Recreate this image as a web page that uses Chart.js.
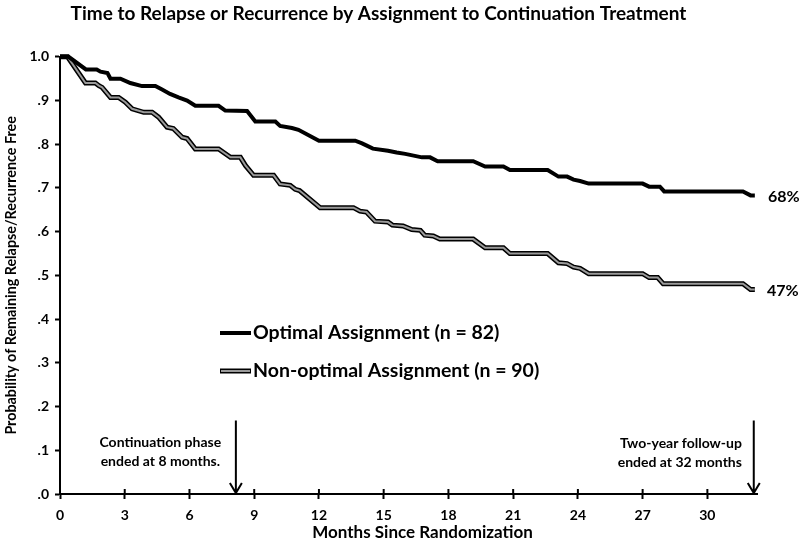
<!DOCTYPE html>
<html>
<head>
<meta charset="utf-8">
<script src="https://cdn.jsdelivr.net/npm/chart.js@4.4.1/dist/chart.umd.min.js"></script>
<style>
  body { margin: 0; background: #fff; }
  #wrap { width: 800px; height: 542px; position: relative; }
</style>
</head>
<body>
<div id="wrap"><canvas id="kmChart"></canvas></div>
<script>
/* ---- dados ---- */
const titleText = 'Time to Relapse or Recurrence by Assignment to Continuation Treatment';
const xTitle = 'Months Since Randomization';
const yTitle = 'Probability of Remaining Relapse/Recurrence Free';
const xTickValues = [0, 3, 6, 9, 12, 15, 18, 21, 24, 27, 30];
const yTickLabels = ['.0', '.1', '.2', '.3', '.4', '.5', '.6', '.7', '.8', '.9', '1.0'];

const seriesNames = ['Optimal Assignment (n = 82)', 'Non-optimal Assignment (n = 90)'];
const endLabels = ['68%', '47%'];

const optimalMonths = [0, 0.4, 1.2, 1.7, 1.88, 2.2, 2.34, 2.8, 3.26, 3.8, 4.42, 4.73, 5.1, 5.49, 5.89, 6.27,
  7.35, 7.66, 8.67, 9.05, 9.98, 10.2, 10.75, 11.05, 12.0, 13.68, 14.0, 14.5, 15.2, 15.6, 16.0, 16.77,
  17.15, 17.5, 19.15, 19.7, 20.55, 20.85, 22.6, 23.1, 23.5, 23.8, 24.1, 24.5, 27.0, 27.3, 27.8, 28.0,
  31.65, 32.0, 32.2];
const optimalSurv = [1.0, 1.0, 0.971, 0.971, 0.966, 0.963, 0.950, 0.950, 0.940, 0.933, 0.933, 0.925, 0.915, 0.907, 0.900, 0.888,
  0.888, 0.877, 0.876, 0.852, 0.852, 0.842, 0.837, 0.833, 0.808, 0.808, 0.802, 0.790, 0.785, 0.781, 0.778, 0.770,
  0.770, 0.761, 0.761, 0.749, 0.749, 0.741, 0.741, 0.726, 0.726, 0.719, 0.716, 0.710, 0.710, 0.703, 0.703, 0.692,
  0.692, 0.683, 0.683];

const nonOptMonths = [0, 0.35, 1.18, 1.64, 1.8, 1.95, 2.34, 2.72, 3.03, 3.34, 3.88, 4.27, 4.57, 4.96, 5.25, 5.66,
  5.89, 6.27, 7.35, 7.9, 8.36, 8.6, 8.97, 9.9, 10.2, 10.67, 10.9, 11.1, 12.05, 13.6, 13.9, 14.2,
  14.6, 15.2, 15.4, 15.9, 16.3, 16.7, 16.9, 17.3, 17.6, 19.15, 19.7, 20.55, 20.85, 22.6, 23.1, 23.5,
  23.8, 24.1, 24.5, 27.0, 27.3, 27.7, 27.95, 31.65, 32.0, 32.2];
const nonOptSurv = [1.0, 1.0, 0.940, 0.940, 0.934, 0.930, 0.907, 0.907, 0.896, 0.881, 0.873, 0.873, 0.862, 0.839, 0.836, 0.816,
  0.813, 0.789, 0.789, 0.770, 0.770, 0.751, 0.729, 0.729, 0.709, 0.706, 0.697, 0.694, 0.655, 0.655, 0.647, 0.645,
  0.624, 0.622, 0.615, 0.613, 0.605, 0.603, 0.592, 0.590, 0.583, 0.583, 0.563, 0.563, 0.550, 0.550, 0.529, 0.527,
  0.519, 0.516, 0.504, 0.504, 0.495, 0.495, 0.481, 0.481, 0.468, 0.468];

// anotações: mês da seta e texto
const arrowMonths = [8.15, 32.15];
const arrowTexts = [['Continuation phase', 'ended at 8 months.'], ['Two-year follow-up', 'ended at 32 months']];

const FONT = 'Lato, "Open Sans", sans-serif';

function toPoints(xs, ys) {
    return xs.map((x, i) => ({ x: x, y: ys[i] }));
}

/* ---- plugin: ticks cruzando o eixo x, legenda, setas, rótulos finais ---- */
const extrasPlugin = {
    id: 'extras',
    afterDraw(chart) {
        const ctx = chart.ctx;
        const xs = chart.scales.x, ys = chart.scales.y;
        const area = chart.chartArea;
        ctx.save();

        // parte interna dos ticks do eixo x
        ctx.strokeStyle = '#000';
        ctx.lineWidth = 2;
        xTickValues.forEach(v => {
            if (v === 0) return;
            const px = xs.getPixelForValue(v);
            ctx.beginPath();
            ctx.moveTo(px, area.bottom);
            ctx.lineTo(px, area.bottom - 5);
            ctx.stroke();
        });

        // título do eixo x (um pouco à direita do centro, como no original)
        ctx.fillStyle = '#000';
        ctx.font = 'bold 17px ' + FONT;
        ctx.textAlign = 'center';
        ctx.textBaseline = 'middle';
        ctx.fillText(xTitle, xs.getPixelForValue(16.8), 533);

        // legenda dentro da área
        const lx = 220, ly = [333, 371];
        ctx.font = 'bold 19.5px ' + FONT;
        ctx.textAlign = 'left';
        ctx.lineCap = 'butt';
        // linha preta
        ctx.lineWidth = 4;
        ctx.strokeStyle = '#000';
        ctx.beginPath(); ctx.moveTo(lx, ly[0]); ctx.lineTo(lx + 31, ly[0]); ctx.stroke();
        // linha dupla
        ctx.lineWidth = 5;
        ctx.beginPath(); ctx.moveTo(lx, ly[1]); ctx.lineTo(lx + 31, ly[1]); ctx.stroke();
        ctx.lineWidth = 2;
        ctx.strokeStyle = '#9a9a9a';
        ctx.beginPath(); ctx.moveTo(lx + 1, ly[1]); ctx.lineTo(lx + 30, ly[1]); ctx.stroke();
        seriesNames.forEach((name, i) => ctx.fillText(name, lx + 33, ly[i]));

        // rótulos no fim das curvas
        ctx.font = 'bold 16px ' + FONT;
        const lastOpt = optimalSurv[optimalSurv.length - 1];
        const lastNon = nonOptSurv[nonOptSurv.length - 1];
        ctx.fillText(endLabels[0], area.right + 11, ys.getPixelForValue(lastOpt) + 1);
        ctx.fillText(endLabels[1], area.right + 10, ys.getPixelForValue(lastNon) + 1);

        // setas
        ctx.strokeStyle = '#000';
        ctx.lineWidth = 2;
        arrowMonths.forEach(m => {
            const px = xs.getPixelForValue(m);
            const top = ys.getPixelForValue(0.168);
            ctx.beginPath();
            ctx.moveTo(px, top);
            ctx.lineTo(px, area.bottom - 1);
            ctx.moveTo(px - 6, area.bottom - 11);
            ctx.lineTo(px, area.bottom - 1);
            ctx.lineTo(px + 6, area.bottom - 11);
            ctx.stroke();
        });

        // textos das setas
        ctx.font = 'bold 14px ' + FONT;
        ctx.textAlign = 'center';
        arrowTexts[0].forEach((t, i) => ctx.fillText(t, xs.getPixelForValue(4.65), 442 + i * 19));
        ctx.textAlign = 'right';
        arrowTexts[1].forEach((t, i) => ctx.fillText(t, xs.getPixelForValue(31.6), 443 + i * 19));

        ctx.restore();
    }
};

window.onload = () => {
    const ctx = document.getElementById('kmChart').getContext('2d');
    new Chart(ctx, {
        type: 'line',
        data: {
            datasets: [
                {
                    label: seriesNames[0],
                    data: toPoints(optimalMonths, optimalSurv),
                    borderColor: '#000', borderWidth: 4, pointRadius: 0, tension: 0,
                    clip: 6, order: 0
                },
                {
                    label: seriesNames[1] + ' (borda)',
                    data: toPoints(nonOptMonths, nonOptSurv),
                    borderColor: '#000', borderWidth: 5, pointRadius: 0, tension: 0,
                    clip: 6, order: 2
                },
                {
                    label: seriesNames[1],
                    data: toPoints(nonOptMonths, nonOptSurv),
                    borderColor: '#9a9a9a', borderWidth: 2, pointRadius: 0, tension: 0,
                    clip: 6, order: 1
                }
            ]
        },
        options: {
            responsive: true,
            maintainAspectRatio: false,
            animation: false,
            layout: { padding: { left: 0, right: 43, top: 0, bottom: 0 } },
            plugins: {
                legend: { display: false },
                tooltip: { enabled: false },
                title: {
                    display: true,
                    text: titleText,
                    color: '#000',
                    font: { family: FONT, size: 19, weight: 'bold' },
                    padding: { top: 2, bottom: 32 }
                }
            },
            scales: {
                x: {
                    type: 'linear',
                    min: 0, max: 32.3,
                    afterFit: s => { s.height = 48; },
                    afterBuildTicks: s => { s.ticks = xTickValues.map(v => ({ value: v })); },
                    ticks: {
                        color: '#000', autoSkip: false, maxRotation: 0, padding: 8,
                        font: { family: FONT, size: 14, weight: 'bold' }
                    },
                    grid: { drawOnChartArea: false, tickLength: 5, tickWidth: 2, tickColor: '#000' },
                    border: { display: true, color: '#000', width: 2 },
                    title: { display: false }
                },
                y: {
                    min: 0, max: 1.0,
                    afterFit: s => { s.width = 60; },
                    afterBuildTicks: s => { s.ticks = yTickLabels.map((t, i) => ({ value: i / 10 })); },
                    ticks: {
                        color: '#000', padding: 6,
                        font: { family: FONT, size: 14, weight: 'bold' },
                        callback: (v, i) => yTickLabels[i]
                    },
                    grid: { drawOnChartArea: false, tickLength: 5, tickWidth: 2, tickColor: '#000' },
                    border: { display: true, color: '#000', width: 2 },
                    title: {
                        display: true, text: yTitle, color: '#000',
                        font: { family: FONT, size: 14.3, weight: 'bold' },
                        padding: { top: 3, bottom: 0 }
                    }
                }
            }
        },
        plugins: [extrasPlugin]
    });
};
</script>
</body>
</html>
